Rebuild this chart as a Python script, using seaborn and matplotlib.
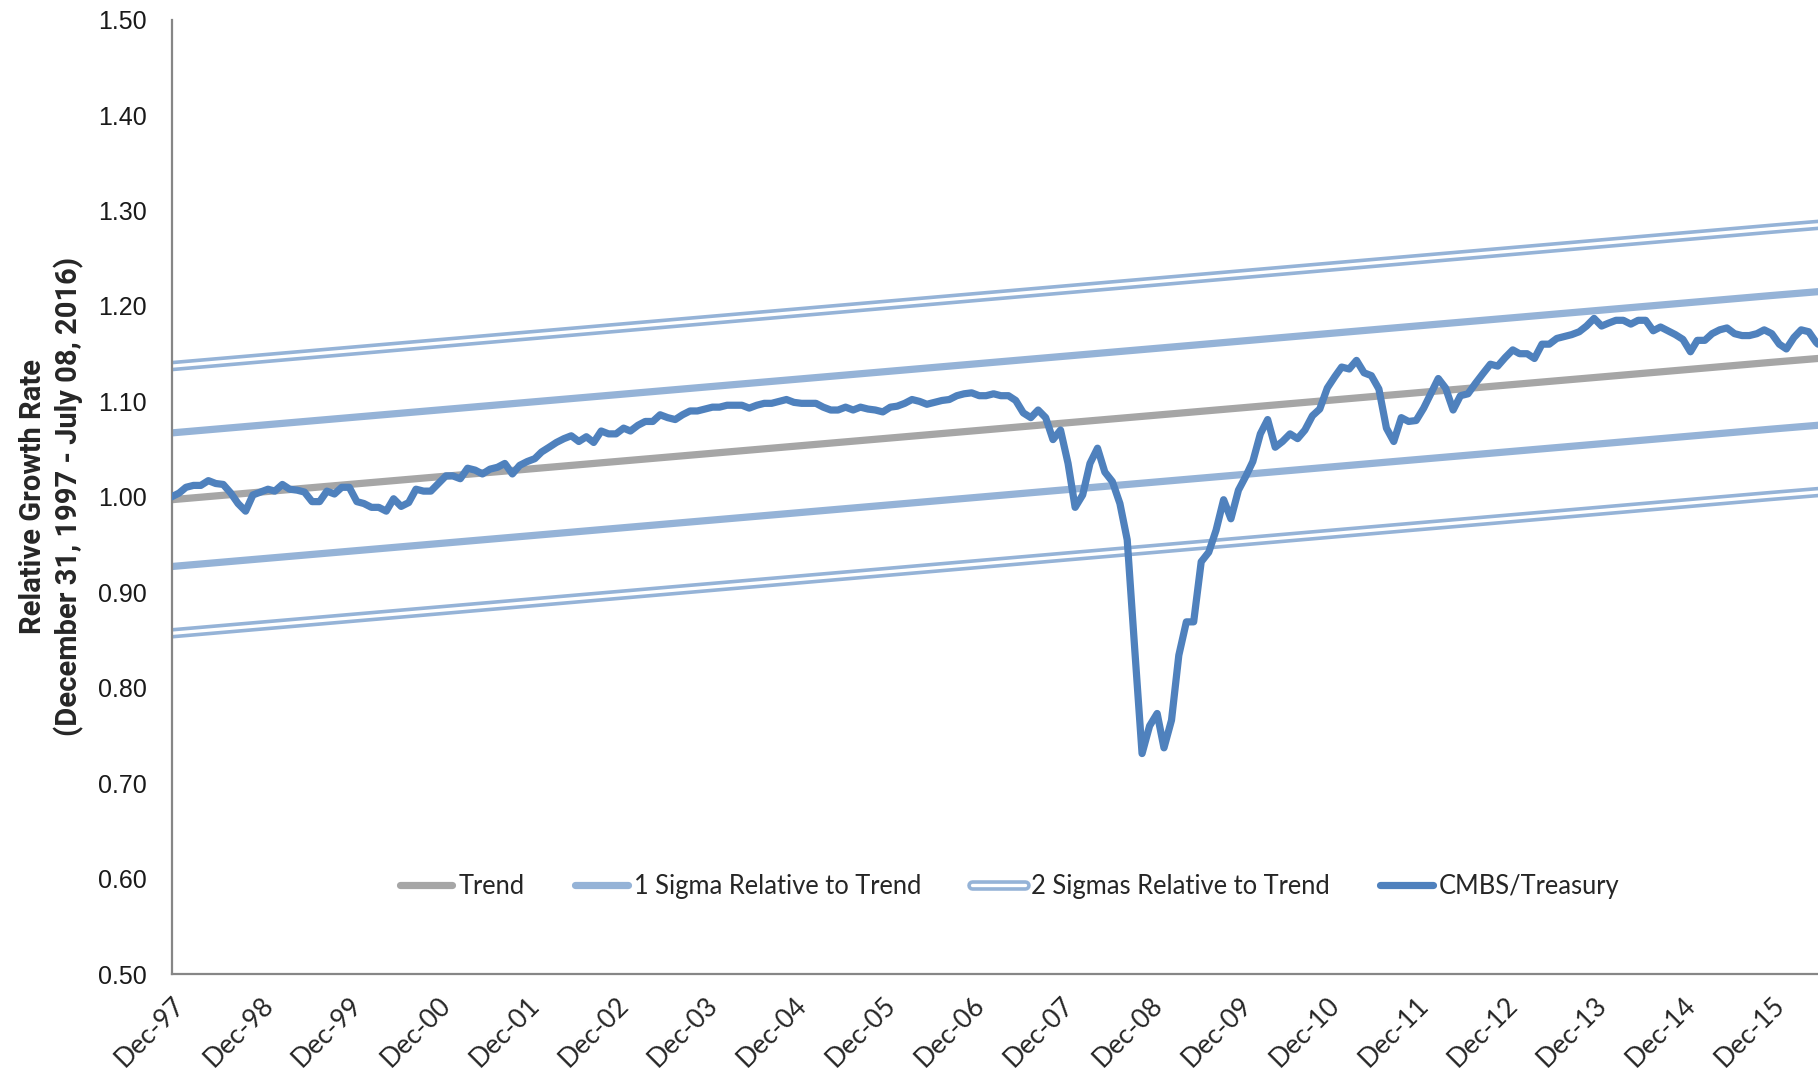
import pandas as pd
import matplotlib.pyplot as plt
import matplotlib.dates as mdates
import matplotlib.patheffects as pe
import seaborn as sns

sns.set_style('white')
plt.rcParams['font.family'] = ['Lato', 'DejaVu Sans']

# CMBS/Treasury relative growth, month ends from Dec-97 to Jun-16, then Jul 08 2016
cmbs = [
    1.000, 1.004, 1.010, 1.012, 1.012, 1.017, 1.014, 1.013, 1.004, 0.993, 0.985, 1.002,
    1.005, 1.008, 1.006, 1.013, 1.008, 1.007, 1.005, 0.995, 0.995, 1.006, 1.003, 1.010,
    1.010, 0.995, 0.993, 0.989, 0.989, 0.985, 0.998, 0.990, 0.994, 1.008, 1.006, 1.006,
    1.014, 1.022, 1.022, 1.019, 1.030, 1.028, 1.024, 1.029, 1.031, 1.035, 1.024, 1.033,
    1.037, 1.040, 1.047, 1.052, 1.057, 1.061, 1.064, 1.058, 1.063, 1.057, 1.069, 1.066,
    1.066, 1.072, 1.069, 1.075, 1.079, 1.079, 1.086, 1.083, 1.081, 1.086, 1.090, 1.090,
    1.092, 1.094, 1.094, 1.096, 1.096, 1.096, 1.093, 1.096, 1.098, 1.098, 1.100, 1.102,
    1.099, 1.098, 1.098, 1.098, 1.094, 1.091, 1.091, 1.094, 1.091, 1.094, 1.092, 1.091,
    1.089, 1.094, 1.095, 1.098, 1.102, 1.100, 1.097, 1.099, 1.101, 1.102, 1.106, 1.108,
    1.109, 1.106, 1.106, 1.108, 1.106, 1.106, 1.101, 1.088, 1.083, 1.091, 1.083, 1.060,
    1.070, 1.035, 0.989, 1.002, 1.035, 1.051, 1.026, 1.016, 0.993, 0.955, 0.840, 0.731,
    0.760, 0.773, 0.737, 0.766, 0.834, 0.869, 0.869, 0.932, 0.942, 0.965, 0.997, 0.977,
    1.007, 1.022, 1.037, 1.066, 1.081, 1.052, 1.058, 1.066, 1.061, 1.070, 1.085, 1.092,
    1.114, 1.126, 1.136, 1.134, 1.143, 1.130, 1.127, 1.113, 1.072, 1.058, 1.083, 1.079,
    1.080, 1.093, 1.108, 1.124, 1.114, 1.091, 1.106, 1.108, 1.119, 1.129, 1.139, 1.137,
    1.146, 1.154, 1.150, 1.150, 1.145, 1.160, 1.160, 1.166, 1.168, 1.170, 1.173, 1.179,
    1.187, 1.179, 1.182, 1.185, 1.185, 1.181, 1.185, 1.185, 1.174, 1.178, 1.174, 1.170,
    1.165, 1.152, 1.164, 1.164, 1.171, 1.175, 1.177, 1.171, 1.169, 1.169, 1.171, 1.175,
    1.171, 1.160, 1.155, 1.167, 1.175, 1.173, 1.162, 1.160,
]
cmbs_dates = list(pd.date_range('1997-12-31', periods=223, freq='ME')) + [pd.Timestamp('2016-07-08')]

# trend and sigma bands, read at each Dec and at Jul 08 2016
band_dates = list(pd.date_range('1997-12-31', periods=19, freq='YE')) + [pd.Timestamp('2016-07-08')]
trend = [0.997, 1.005, 1.013, 1.021, 1.029, 1.037, 1.045, 1.053, 1.061, 1.069,
         1.077, 1.085, 1.093, 1.101, 1.109, 1.117, 1.125, 1.133, 1.141, 1.145]
sigma1_up = [1.067, 1.075, 1.083, 1.091, 1.099, 1.107, 1.115, 1.123, 1.131, 1.139,
             1.147, 1.155, 1.163, 1.171, 1.179, 1.187, 1.195, 1.203, 1.211, 1.215]
sigma1_dn = [0.927, 0.935, 0.943, 0.951, 0.959, 0.967, 0.975, 0.983, 0.991, 0.999,
             1.007, 1.015, 1.023, 1.031, 1.039, 1.047, 1.055, 1.063, 1.071, 1.075]
sigma2_up = [1.137, 1.145, 1.153, 1.161, 1.169, 1.177, 1.185, 1.193, 1.201, 1.209,
             1.217, 1.225, 1.233, 1.241, 1.249, 1.257, 1.265, 1.273, 1.281, 1.285]
sigma2_dn = [0.857, 0.865, 0.873, 0.881, 0.889, 0.897, 0.905, 0.913, 0.921, 0.929,
             0.937, 0.945, 0.953, 0.961, 0.969, 0.977, 0.985, 0.993, 1.001, 1.005]

bands = pd.DataFrame({'Date': band_dates, 'trend': trend,
                      'up1': sigma1_up, 'dn1': sigma1_dn,
                      'up2': sigma2_up, 'dn2': sigma2_dn})
main = pd.DataFrame({'Date': cmbs_dates, 'value': cmbs})

fig = plt.figure(figsize=(18.18, 10.68), dpi=100)
ax = fig.add_axes([171.6 / 1818, 1 - 974 / 1068, (1818 - 171.6) / 1818, (974 - 19.7) / 1068])

dbl = [pe.Stroke(linewidth=7.6, foreground='#95B3D7'), pe.Stroke(linewidth=2.4, foreground='white')]

sns.lineplot(data=bands, x='Date', y='trend', ax=ax, color='#A6A6A6', linewidth=5.2, label='Trend')
sns.lineplot(data=bands, x='Date', y='up1', ax=ax, color='#95B3D7', linewidth=5.2,
             label='1 Sigma Relative to Trend')
sns.lineplot(data=bands, x='Date', y='dn1', ax=ax, color='#95B3D7', linewidth=5.2, label='_nolegend_')
sns.lineplot(data=bands, x='Date', y='up2', ax=ax, color='#95B3D7', linewidth=7.6,
             label='2 Sigmas Relative to Trend')
sns.lineplot(data=bands, x='Date', y='dn2', ax=ax, color='#95B3D7', linewidth=7.6, label='_nolegend_')
sns.lineplot(data=main, x='Date', y='value', ax=ax, color='#4F81BD', linewidth=5.2,
             label='CMBS/Treasury')
for ln in ax.lines[3:5]:
    ln.set_path_effects(dbl)
ax.lines[-1].set_zorder(5)

ax.set_xlim(cmbs_dates[0], cmbs_dates[-1])
ax.set_ylim(0.5, 1.5)
ax.set_yticks([0.5 + 0.1 * i for i in range(11)])
ax.yaxis.set_major_formatter(plt.FormatStrFormatter('%.2f'))
ax.set_xticks(band_dates[:-1])
ax.xaxis.set_major_formatter(mdates.DateFormatter('%b-%y'))

for s in ['top', 'right']:
    ax.spines[s].set_visible(False)
for s in ['left', 'bottom']:
    ax.spines[s].set_color('#868686')
    ax.spines[s].set_linewidth(1.6)
ax.tick_params(axis='both', direction='out', length=7, width=1.2, color='#868686')
ax.tick_params(axis='y', pad=11)
ax.tick_params(axis='x', pad=6)
for lab in ax.get_yticklabels():
    lab.set_fontfamily(['Liberation Sans', 'DejaVu Sans'])
    lab.set_fontsize(18)
    lab.set_color('#1a1a1a')
for lab in ax.get_xticklabels():
    lab.set_rotation(45)
    lab.set_ha('right')
    lab.set_rotation_mode('anchor')
    lab.set_fontsize(19)

ax.set_xlabel('')
ax.set_ylabel('Relative Growth Rate\n(December 31, 1997 - July 08, 2016)',
              fontsize=21, fontweight='bold', family=['Roboto', 'DejaVu Sans'],
              linespacing=1.3)
ax.yaxis.set_label_coords(-0.053, 0.5)

ax.legend(loc='center', bbox_to_anchor=(0.509, 0.092), ncol=4, frameon=False,
          handlelength=2.05, handletextpad=0.23, columnspacing=2.0,
          prop={'size': 18.4})

plt.savefig('out.png', dpi=100)
